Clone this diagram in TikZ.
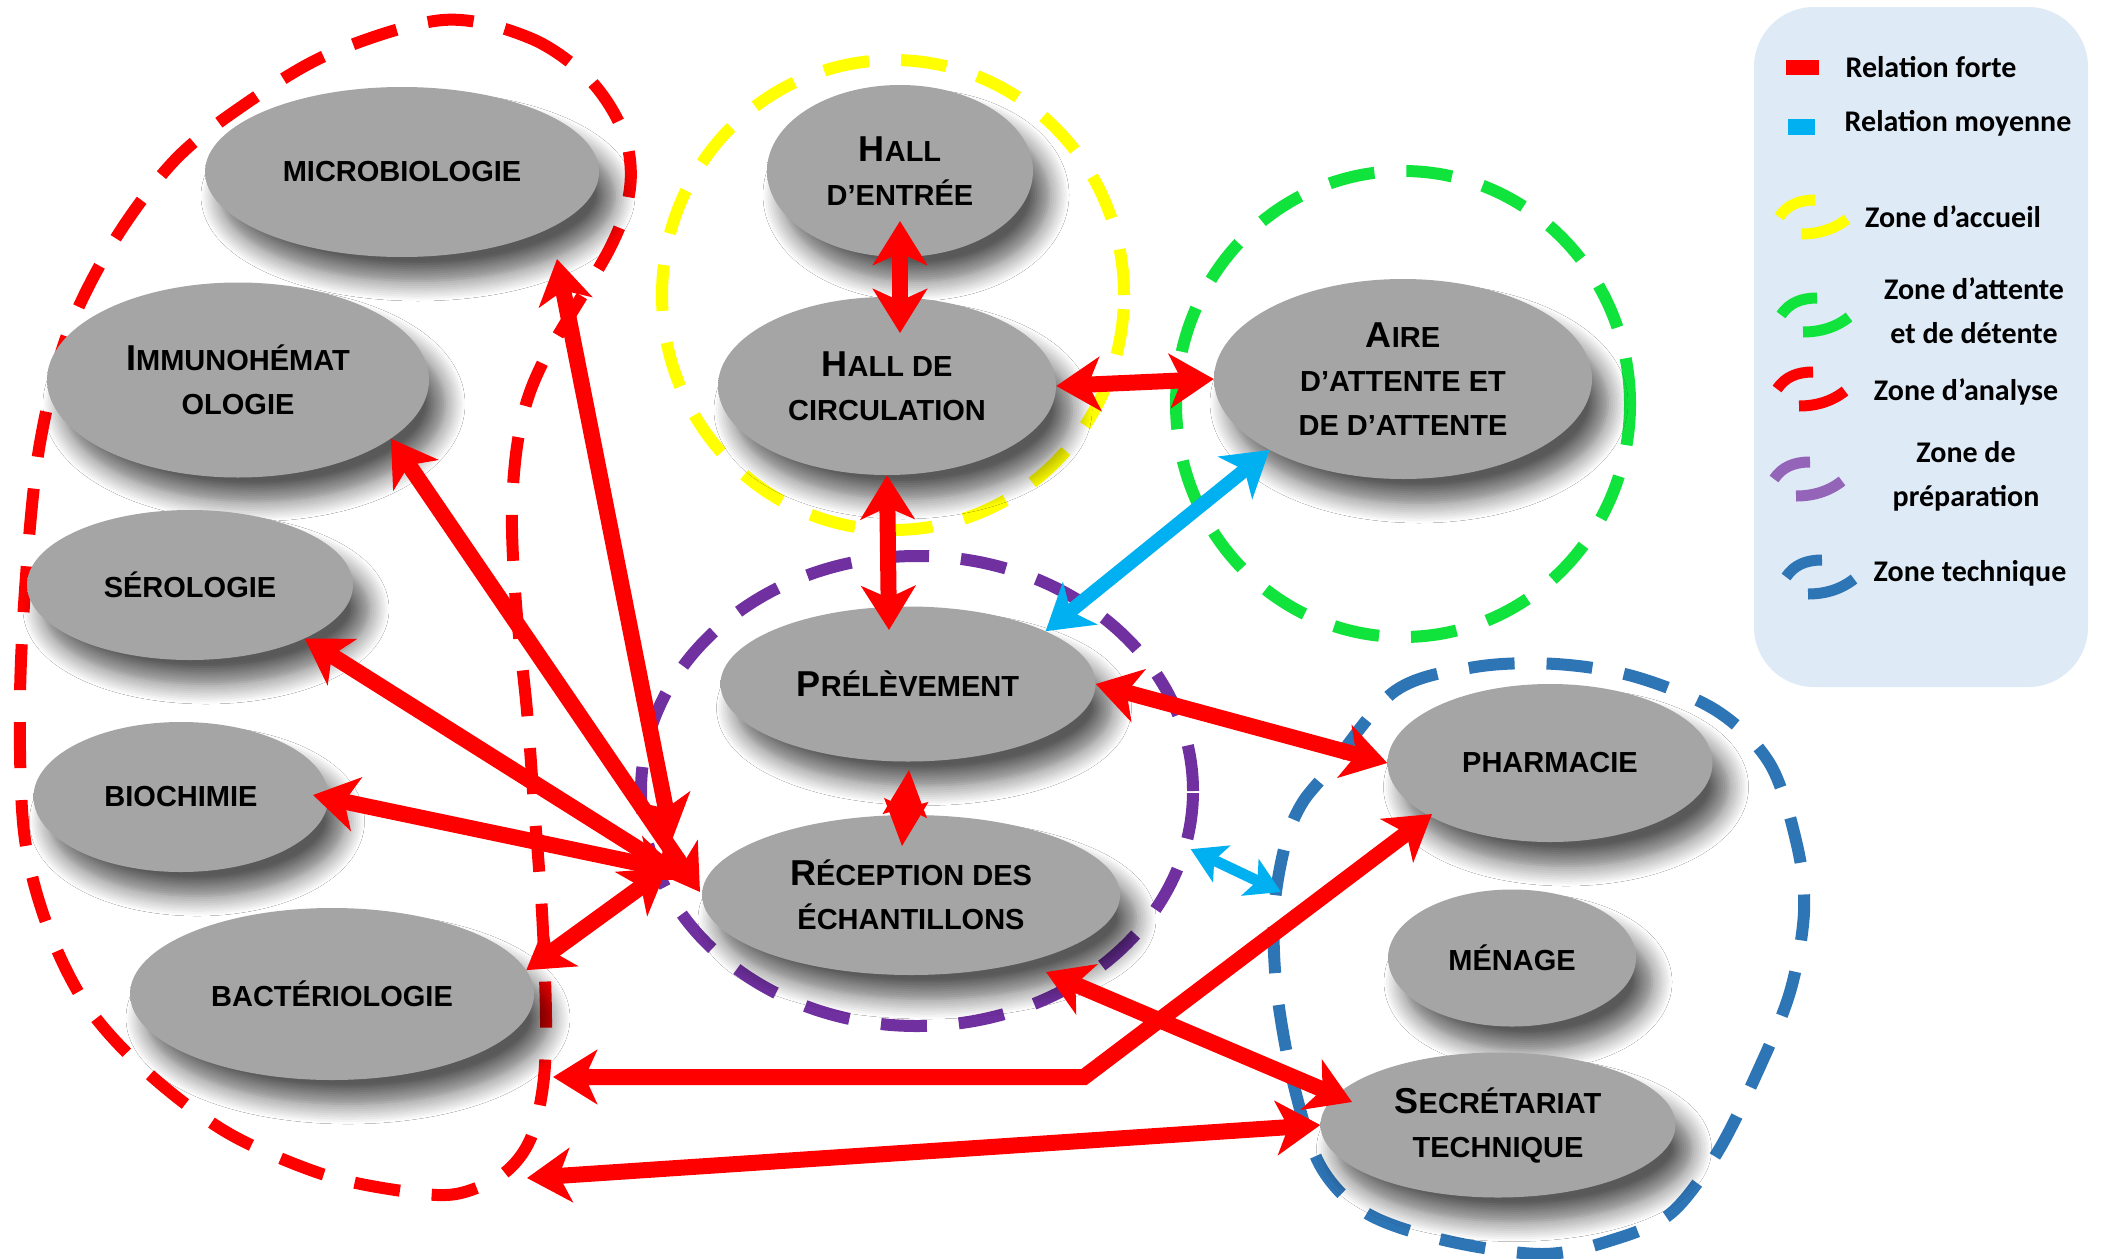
\documentclass[tikz,border=0pt]{standalone}
\usepackage{fontspec}
\setmainfont{Liberation Sans}
\newfontfamily\legfont{Carlito}
\usetikzlibrary{shapes.geometric, arrows.meta, shadows.blur, calc}

\definecolor{zred}{HTML}{FF0000}
\definecolor{zyellow}{HTML}{FFFF00}
\definecolor{zgreen}{HTML}{0FE33C}
\definecolor{zpurple}{HTML}{7030A0}
\definecolor{ztech}{HTML}{2E75B6}
\definecolor{rblue}{HTML}{00B0F0}
\definecolor{legbg}{HTML}{DEEAF6}
\definecolor{nodegray}{HTML}{A5A5A5}

\pgfdeclareradialshading{bevelgray}{\pgfpoint{0bp}{0bp}}{color(0bp)=(nodegray); color(37bp)=(nodegray); color(45bp)=(nodegray!70!white); color(48.5bp)=(white); color(50bp)=(white)}

\newcommand{\smfont}{\fontsize{29}{44}\selectfont\bfseries}
\newcommand{\Ini}[1]{{\fontsize{36}{44}\selectfont #1}}

\tikzset{
  lab/.style={ellipse, shading=bevelgray, inner sep=0pt, align=center, font=\smfont, text=black,
    blur shadow={shadow xshift=16pt, shadow yshift=-24pt, shadow blur radius=20pt, shadow opacity=65, shadow blur steps=10}},
  zone/.style={line width=12pt, dash pattern=on 46pt off 32pt},
  zonenode/.style={ellipse, draw=#1, zone, inner sep=0pt},
  tipR/.tip={Stealth[length=44pt,width=54pt,inset=12pt]},
  tipS/.tip={Stealth[length=46pt,width=44pt,inset=8pt]},
  tipB/.tip={Stealth[length=34pt,width=40pt,inset=8pt]},
  ra/.style={draw=zred, line width=16pt, arrows={tipR-tipR}},
  rsmall/.style={draw=zred, line width=4pt, arrows={tipS-tipS}},
  ba/.style={draw=rblue, line width=14pt, arrows={tipR-tipR}},
  bsmall/.style={draw=rblue, line width=11pt, arrows={tipB-tipB}},
  legtext/.style={font=\legfont\fontsize{30}{44}\selectfont\bfseries, align=center, inner sep=0pt},
  legS/.pic={
    \draw[line width=11pt, pic actions] (-34,0) .. controls (-26,-12) and (-14,-17) .. (2,-17);
    \draw[line width=11pt, pic actions] (-12,17) .. controls (4,17) and (20,13) .. (34,2);
  }
}

\begin{document}
\begin{tikzpicture}[x=1pt, y=-1pt]
\useasboundingbox (0,0) rectangle (2103,1258);
\fill[white] (0,0) rectangle (2103,1258);

% ---------- zones ----------
\draw[zone, zred] plot[smooth cycle, tension=0.55] coordinates {
  (443,20) (530,38) (590,80) (624,134) (630,188) (610,248) (543,362) (520,429)
  (512,510) (516,604) (527,711) (534,805) (542,912) (546,1019) (543,1086)
  (530,1140) (503,1174) (456,1194) (402,1191) (322,1174) (228,1133) (148,1073)
  (87,1006) (47,925) (24,832) (20,697) (27,563) (40,443) (67,335) (114,241)
  (174,161) (241,107) (329,54)};
\node[zonenode=zyellow, minimum width=462pt, minimum height=470pt] (yz) at (893,295) {};
\node[zonenode=zgreen, minimum width=454pt, minimum height=466pt] (gz) at (1403,404) {};
\node[zonenode=zpurple, minimum width=552pt, minimum height=470pt] (pz) at (917,791) {};
\draw[zone, ztech] plot[smooth cycle, tension=0.55] coordinates {
  (1328,771) (1395,691) (1475,667) (1556,664) (1636,677) (1717,711) (1770,764)
  (1797,845) (1804,912) (1790,992) (1757,1073) (1717,1153) (1670,1214)
  (1609,1241) (1542,1254) (1448,1241) (1368,1214) (1321,1167) (1294,1086)
  (1277,992) (1274,912) (1285,845) (1301,805)};
\coordinate (tz) at (1281,892);
\coordinate (bend) at (1084,1077);

% ---------- nodes ----------
\node[lab, minimum width=394pt, minimum height=170pt] (micro) at (402,172) {MICROBIOLOGIE};
\node[lab, minimum width=382pt, minimum height=195pt] (immuno) at (238,380) {\Ini{I}MMUNOHÉMAT\\OLOGIE};
\node[lab, minimum width=326pt, minimum height=150pt] (sero) at (190,585) {SÉROLOGIE};
\node[lab, minimum width=295pt, minimum height=150pt] (bio) at (181,797) {BIOCHIMIE};
\node[lab, minimum width=404pt, minimum height=172pt] (bact) at (332,994) {BACTÉRIOLOGIE};
\node[lab, minimum width=266pt, minimum height=172pt] (he) at (900,171) {\Ini{H}ALL\\D’ENTRÉE};
\node[lab, minimum width=338pt, minimum height=178pt] (hc) at (887,386) {\Ini{H}ALL DE\\CIRCULATION};
\node[lab, minimum width=378pt, minimum height=200pt] (aire) at (1403,379) {\Ini{A}IRE\\D’ATTENTE ET\\DE D’ATTENTE};
\node[lab, minimum width=375pt, minimum height=155pt] (prel) at (908,684) {\Ini{P}RÉLÈVEMENT};
\node[lab, minimum width=418pt, minimum height=160pt] (rec) at (911,895) {\Ini{R}ÉCEPTION DES\\ÉCHANTILLONS};
\node[lab, minimum width=325pt, minimum height=158pt] (pharm) at (1550,763) {PHARMACIE};
\node[lab, minimum width=248pt, minimum height=137pt] (men) at (1512,958) {MÉNAGE};
\node[lab, minimum width=355pt, minimum height=145pt] (sec) at (1498,1125) {\Ini{S}ECRÉTARIAT\\TECHNIQUE};

% ---------- connectors ----------
\draw[ra] ($(he)+(0,50)$) -- ($(hc)+(13,-53)$);
\draw[ra] (hc.east) -- (aire.west);
\draw[ra] (hc.south) -- ($(prel)+(-19,-54)$);
\draw[ba] (aire.208) -- (prel.21);
\draw[rsmall] ($(prel)+(1,86)$) -- ($(rec)+(-9,-49)$);
\draw[ra] (prel.east) -- (pharm.west);
\draw[bsmall] (pz.-12) -- (tz);
\draw[ra] ($(rec)+(-239,-55)$) -- ($(micro)+(155,87)$);
\draw[ra] ($(rec)+(-223,-15)$) -- (sero.-25);
\draw[ra] ($(rec)+(-231,-23)$) -- ($(bio)+(132,-2)$);
\draw[ra] ($(rec)+(-244,-27)$) -- (bact.7);
\draw[ra] ($(rec)+(-211,-3)$) -- (immuno.-21);
\draw[ra] ($(rec)+(135,77)$) -- ($(sec)+(-146,-23)$);
\draw[ra] ($(pharm)+(-118,51)$) -- (bend) -- ($(bact)+(221,83)$);
\draw[ra] (sec.west) -- ($(bact)+(195,184)$);

% ---------- legend ----------
\fill[legbg, rounded corners=60pt] (1754,7) rectangle (2088,687);
\fill[zred] (1786,60) rectangle (1819,75);
\fill[rblue] (1788,119) rectangle (1815,135);
\pic[color=zyellow] at (1813,217) {legS};
\pic[color=zgreen] at (1815,315) {legS};
\pic[color=zred] at (1811,389) {legS};
\pic[color=zpurple!75!white] at (1808,479) {legS};
\pic[color=ztech] at (1820,577) {legS};
\node[legtext] (l1) at (1931,67) {Relation forte};
\node[legtext] (l2) at (1958,123) {Relation moyenne};
\node[legtext] (l3) at (1953,217) {Zone d’accueil};
\node[legtext] (l4) at (1974,311) {Zone d’attente\\et de détente};
\node[legtext] (l5) at (1966,392) {Zone d’analyse};
\node[legtext] (l6) at (1966,476) {Zone de\\préparation};
\node[legtext] (l7) at (1970,573) {Zone technique};
\end{tikzpicture}
\end{document}
